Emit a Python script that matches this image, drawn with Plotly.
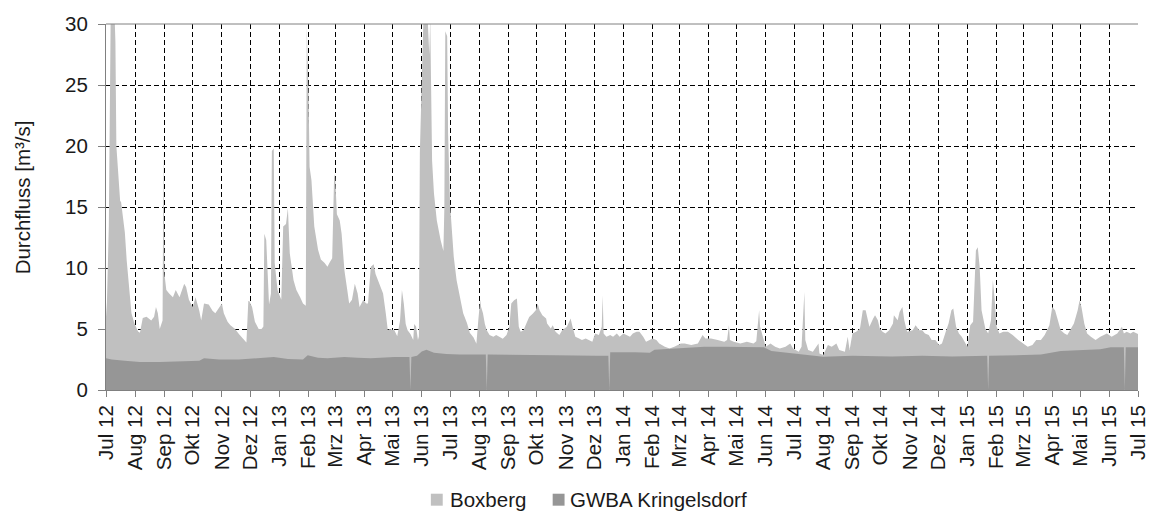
import pandas as pd
import plotly.graph_objects as go

# Daily discharge series, indexed by day since 1 July 2012 (m³/s)
START = pd.Timestamp("2012-07-01")

boxberg_day = [
    0, 1, 3, 5, 9, 10, 11, 13, 15, 16, 18, 20, 22, 25, 27, 30, 34, 36, 39, 43,
    48, 51, 53, 55, 57, 60, 61, 62, 64, 67, 71, 74, 78, 83, 85, 88, 92, 95, 99, 101,
    104, 109, 113, 116, 120, 123, 125, 129, 132, 134, 137, 141, 146, 149, 151, 152, 155, 158, 162, 165,
    167, 168, 170, 173, 175, 176, 178, 179, 182, 185, 186, 188, 191, 193, 195, 199, 202, 206, 209, 212,
    213, 215, 216, 218, 220, 221, 225, 228, 232, 235, 237, 240, 242, 243, 245, 248, 250, 253, 256, 258,
    261, 264, 267, 269, 271, 273, 276, 278, 281, 284, 286, 290, 291, 294, 297, 299, 301, 306, 309, 312,
    314, 316, 318, 320, 323, 326, 327, 329, 331, 332, 333, 335, 337, 341, 343, 344, 346, 348, 351, 355,
    358, 359, 360, 362, 363, 365, 367, 369, 372, 376, 379, 383, 386, 390, 393, 395, 397, 398, 400, 402,
    404, 407, 411, 414, 418, 421, 425, 428, 430, 433, 436, 438, 440, 443, 446, 449, 453, 456, 458, 460,
    463, 467, 468, 472, 474, 477, 481, 484, 489, 493, 495, 498, 502, 505, 509, 512, 516, 519, 523, 526,
    527, 528, 531, 535, 538, 542, 545, 549, 552, 556, 559, 563, 566, 570, 573, 577, 580, 584, 587, 593,
    598, 603, 607, 610, 614, 621, 628, 633, 636, 642, 649, 656, 659, 661, 662, 666, 673, 680, 687, 690,
    693, 694, 696, 698, 700, 705, 710, 715, 721, 726, 729, 735, 738, 741, 742, 745, 750, 756, 757, 761,
    766, 770, 775, 778, 784, 787, 789, 792, 796, 800, 803, 806, 808, 810, 814, 816, 819, 821, 824, 827,
    831, 835, 836, 840, 842, 845, 847, 850, 856, 859, 863, 866, 869, 873, 876, 880, 884, 887, 891, 894,
    897, 899, 902, 905, 908, 912, 914, 917, 920, 923, 925, 927, 929, 933, 936, 939, 941, 943, 945, 948,
    952, 957, 962, 968, 973, 978, 983, 987, 992, 996, 1001, 1004, 1007, 1010, 1013, 1017, 1020, 1027, 1031, 1033,
    1035, 1038, 1041, 1045, 1050, 1055, 1062, 1067, 1073, 1078, 1080, 1083, 1087, 1090, 1094, 1095,
]
boxberg_q = [
    6.0, 7.2, 13.5, 31.0, 31.0, 28.5, 20.0, 17.2, 15.5, 15.4, 13.9, 12.9, 10.6, 7.6, 6.3, 5.5, 4.8, 4.7, 5.9, 6.0,
    5.7, 6.0, 6.8, 6.3, 5.0, 5.7, 20.0, 9.5, 8.2, 7.9, 7.6, 8.2, 7.6, 8.7, 8.45, 7.4, 6.8, 7.6, 6.5, 5.7,
    7.1, 7.0, 6.5, 6.3, 6.8, 7.1, 6.3, 5.6, 5.3, 5.2, 5.0, 4.6, 4.1, 3.9, 7.3, 7.3, 6.8, 5.6, 5.0, 5.0,
    5.2, 12.8, 12.3, 7.0, 7.9, 19.6, 19.8, 10.4, 8.2, 7.6, 7.4, 13.4, 13.6, 14.9, 11.2, 9.0, 8.2, 7.6, 7.1, 6.9,
    29.8, 24.0, 18.3, 17.2, 15.0, 13.4, 11.5, 10.7, 10.4, 10.1, 10.4, 10.8, 17.4, 17.7, 14.4, 13.9, 12.8, 9.8, 8.2, 7.1,
    7.4, 8.7, 7.9, 6.8, 7.1, 7.4, 7.1, 7.1, 10.1, 10.3, 9.5, 8.7, 8.4, 7.9, 6.2, 4.9, 5.0, 4.9, 4.4, 5.7,
    8.2, 7.1, 5.4, 4.9, 4.6, 4.1, 5.4, 5.2, 4.1, 4.4, 19.4, 24.9, 31.0, 31.0, 27.5, 30.5, 18.8, 16.1, 13.9, 12.3,
    11.4, 14.9, 29.4, 29.0, 21.0, 15.3, 12.8, 10.9, 9.0, 7.4, 6.3, 5.5, 4.7, 4.3, 3.8, 5.7, 7.4, 6.8, 6.3, 5.4,
    4.9, 4.5, 4.36, 4.5, 4.36, 4.2, 4.5, 5.18, 7.09, 7.36, 7.5, 5.18, 4.77, 4.9, 5.45, 5.99, 6.27, 6.54, 7.09, 6.54,
    6.13, 5.86, 5.45, 5.04, 5.31, 4.77, 4.5, 4.9, 5.18, 5.86, 5.18, 4.36, 4.22, 4.09, 4.22, 4.09, 3.95, 4.63, 4.5, 5.18,
    7.77, 4.63, 4.36, 4.5, 4.36, 4.63, 4.36, 4.63, 4.5, 4.36, 4.63, 4.77, 4.77, 4.36, 3.95, 4.09, 4.22, 4.09, 3.81, 3.54,
    3.41, 3.54, 3.68, 3.81, 3.81, 3.68, 3.81, 4.5, 4.22, 4.22, 4.09, 3.95, 4.09, 5.31, 4.09, 3.95, 3.81, 3.95, 3.81, 4.0,
    6.54, 5.18, 4.63, 4.09, 3.54, 3.81, 3.54, 3.41, 3.54, 3.81, 3.41, 3.13, 3.54, 8.04, 4.09, 3.27, 3.13, 3.81, 3.0, 2.86,
    3.68, 3.54, 3.81, 3.27, 3.13, 4.36, 3.27, 4.63, 4.77, 5.04, 6.54, 6.54, 5.72, 5.18, 5.86, 6.13, 5.72, 5.04, 4.77, 4.63,
    4.9, 5.45, 6.13, 5.72, 6.4, 6.81, 5.72, 4.77, 4.9, 5.31, 4.9, 4.9, 4.63, 4.5, 4.09, 4.09, 3.68, 3.81, 4.77, 5.45,
    6.54, 6.68, 5.18, 4.63, 4.36, 3.81, 3.54, 5.31, 5.59, 11.44, 11.7, 10.1, 6.54, 5.04, 4.63, 5.72, 9.0, 7.36, 5.18, 4.63,
    4.77, 4.77, 4.5, 4.09, 3.81, 3.54, 3.68, 4.09, 4.09, 4.5, 5.31, 6.81, 6.54, 5.72, 4.9, 4.63, 4.5, 5.45, 6.54, 7.36,
    6.81, 5.45, 4.63, 4.36, 4.09, 4.36, 4.63, 4.36, 4.63, 5.18, 4.63, 4.77, 4.63, 4.77, 4.63, 4.6,
]

gwba_day = [
    0, 6, 20, 36, 57, 78, 99, 104, 120, 141, 162, 178, 193, 209, 214, 225, 235, 253, 267, 281,
    306, 322, 323, 324, 330, 335, 340, 348, 361, 375, 403, 404, 405, 411, 435, 477, 519, 533, 534, 535,
    561, 577, 582, 614, 635, 656, 687, 698, 706, 729, 750, 761, 792, 834, 866, 898, 935, 936, 937, 961,
    992, 1013, 1034, 1055, 1066, 1080, 1081, 1082, 1095,
]
gwba_q = [
    2.6, 2.5, 2.4, 2.3, 2.3, 2.35, 2.4, 2.6, 2.5, 2.5, 2.6, 2.7, 2.55, 2.5, 2.85, 2.65, 2.6, 2.7, 2.65, 2.6,
    2.7, 2.7, 0.0, 2.7, 2.8, 3.15, 3.3, 3.05, 2.95, 2.9, 2.9, 0.0, 2.9, 2.9, 2.85, 2.85, 2.8, 2.8, 0.0, 3.1,
    3.1, 3.05, 3.3, 3.45, 3.55, 3.55, 3.5, 3.5, 3.2, 3.0, 2.85, 2.72, 2.8, 2.75, 2.8, 2.75, 2.8, 0.0, 2.8, 2.85,
    2.9, 3.2, 3.25, 3.35, 3.5, 3.5, 0.0, 3.5, 3.5,
]

month_ticks = [
    "Jul 12", "Aug 12", "Sep 12", "Okt 12", "Nov 12", "Dez 12",
    "Jan 13", "Feb 13", "Mrz 13", "Apr 13", "Mai 13", "Jun 13",
    "Jul 13", "Aug 13", "Sep 13", "Okt 13", "Nov 13", "Dez 13",
    "Jan 14", "Feb 14", "Mrz 14", "Apr 14", "Mai 14", "Jun 14",
    "Jul 14", "Aug 14", "Sep 14", "Okt 14", "Nov 14", "Dez 14",
    "Jan 15", "Feb 15", "Mrz 15", "Apr 15", "Mai 15", "Jun 15",
    "Jul 15",
]

series_names = ["Boxberg", "GWBA Kringelsdorf"]
series_colors = ["#c0c0c0", "#969696"]

boxberg_x = START + pd.to_timedelta(boxberg_day, unit="D")
gwba_x = START + pd.to_timedelta(gwba_day, unit="D")
tick_dates = pd.date_range(START, periods=len(month_ticks), freq="MS")

FONT = "Liberation Sans, Arial, sans-serif"
TXT = "#1a1a1a"
AXC = "#808080"
FS = 20.5

fig = go.Figure()
for xs, ys, col in [(boxberg_x, boxberg_q, series_colors[0]), (gwba_x, gwba_q, series_colors[1])]:
    fig.add_trace(go.Scatter(
        x=xs, y=ys, mode="lines", line=dict(width=0, color=col),
        fill="tozeroy", fillcolor=col, showlegend=False, hoverinfo="skip",
    ))

grid = dict(showgrid=True, gridcolor="#000000", gridwidth=1, griddash="5px,3px")

fig.update_xaxes(
    type="date", range=[tick_dates[0], tick_dates[-1]],
    tickmode="array", tickvals=tick_dates, ticktext=month_ticks, tickangle=-90,
    ticks="outside", ticklen=6, tickcolor=AXC, showline=True, linecolor=AXC, linewidth=1,
    tickfont=dict(family=FONT, size=FS, color=TXT), zeroline=False, **grid,
)
fig.update_yaxes(
    range=[0, 30], tickmode="linear", tick0=0, dtick=5,
    ticks="outside", ticklen=7, tickcolor=AXC, showline=True, linecolor=AXC, linewidth=1,
    tickfont=dict(family=FONT, size=FS, color=TXT), zeroline=False, ticklabelstandoff=6, **grid,
)

# plot-area top border
fig.add_shape(type="line", xref="paper", yref="paper", x0=0, x1=1, y0=1, y1=1,
              line=dict(color=AXC, width=1), layer="above")

# legend drawn below the axis labels
W, H = 1042.0, 367.0
LEG_Y = 500
legend_items = [(434, 451), (557, 572)]
for (sq, tx), name, col in zip(legend_items, series_names, series_colors):
    fig.add_shape(type="rect", xref="paper", yref="paper",
                  x0=(sq - 106) / W, x1=(sq + 12 - 106) / W,
                  y0=(390 - (LEG_Y - 6)) / H, y1=(390 - (LEG_Y + 6)) / H,
                  line=dict(width=0), fillcolor=col)
    fig.add_annotation(xref="paper", yref="paper", x=(tx - 106) / W, y=(390 - LEG_Y) / H,
                       xanchor="left", yanchor="middle", showarrow=False, text=name,
                       font=dict(family=FONT, size=FS, color=TXT))

fig.add_annotation(xref="paper", yref="paper", x=(22 - 106) / W, y=(390 - 197) / H,
                   xanchor="center", yanchor="middle", showarrow=False, textangle=-90,
                   text="Durchfluss [m³/s]", font=dict(family=FONT, size=FS, color=TXT))

fig.update_layout(
    width=1161, height=514, margin=dict(l=106, r=13, t=23, b=124),
    paper_bgcolor="white", plot_bgcolor="white", showlegend=False,
    font=dict(family=FONT, size=FS, color=TXT),
)

fig.write_html("out.html", config={"displayModeBar": False})
